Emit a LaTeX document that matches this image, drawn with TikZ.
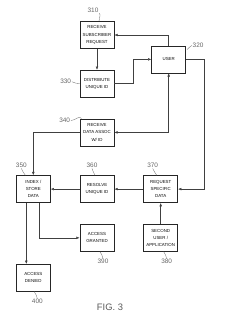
\documentclass[tikz,border=0pt]{standalone}
\usepackage{fontspec}
\setmainfont{Liberation Sans}
\usepackage{tikz}
\usetikzlibrary{arrows.meta,positioning,calc}

\begin{document}
\begin{tikzpicture}[font=\fontsize{3.75}{6.2}\selectfont, node distance=0.63cm and 0.87cm]
\tikzstyle{box}=[rectangle, draw=black!85, line width=0.6pt, minimum width=1.02cm, minimum height=0.81cm, inner sep=0.5pt, align=center, text=black!95]
\tikzstyle{num}=[font=\fontsize{5.5}{6}\selectfont, text=black!60, inner sep=0.5pt]
\tikzstyle{link}=[draw=black!75, line width=0.4pt, -{Latex[length=1mm,width=0.8mm]}]
\tikzstyle{lead}=[draw=black!55, line width=0.3pt]
\useasboundingbox (-2.91,1.05) rectangle (3.90,-8.55);
% left column
\node[box] (s310) {RECEIVE\\SUBSCRIBER\\REQUEST};
\node[box, below=of s310] (s330) {DISTRIBUTE\\UNIQUE ID};
\node[box, below=of s330] (s340) {RECEIVE\\DATA ASSOC\\W/ ID};
\coordinate (mid) at ($(s310.south east)!0.5!(s330.north east)$);
\node[box, right=1.11cm of mid, anchor=west] (user) {USER};
% middle row
\node[box, below=0.87cm of s340] (s360) {RESOLVE\\UNIQUE ID};
\node[box, left=of s360] (s350) {INDEX /\\STORE\\DATA};
\node[box, right=of s360] (s370) {REQUEST\\SPECIFIC\\DATA};
% bottom
\node[box, below=of s360] (s390) {ACCESS\\GRANTED};
\node[box, below=of s370] (s380) {SECOND\\USER /\\APPLICATION};
\node[box, below=1.83cm of s350] (s400) {ACCESS\\DENIED};
% reference numbers
\node[num] (l310) at ([shift={(-0.12,0.33)}]s310.north) {310};
\node[num] (l320) at ([shift={(0.36,0)}]user.north east) {320};
\node[num] (l330) at ([shift={(-0.42,0.06)}]s330.west) {330};
\node[num] (l340) at ([shift={(-0.45,-0.06)}]s340.north west) {340};
\node[num] (l350) at ([shift={(-0.36,0.3)}]s350.north) {350};
\node[num] (l360) at ([shift={(-0.15,0.3)}]s360.north) {360};
\node[num] (l370) at ([shift={(-0.24,0.3)}]s370.north) {370};
\node[num] (l390) at ([shift={(0.18,-0.3)}]s390.south) {390};
\node[num] (l380) at ([shift={(0.18,-0.3)}]s380.south) {380};
\node[num] (l400) at ([shift={(0.12,-0.3)}]s400.south) {400};
\node[font=\fontsize{8}{9}\selectfont, text=black!65] (fig) at ([shift={(0.39,-1.68)}]s390.south) {FIG. 3};
% leaders
\draw[lead] (l310.south east) to[out=-40,in=100] ([xshift=0.06cm]s310.north);
\draw[lead] (l320.west) to[out=200,in=30] ([shift={(0.03,-0.12)}]user.north east);
\draw[lead] (l330.east) to[out=-20,in=180] (s330.west);
\draw[lead] (l340.east) to[out=0,in=120] ([shift={(0.06,0)}]s340.north west);
\draw[lead] (l350.south) to[out=-80,in=110] ([xshift=-0.24cm]s350.north);
\draw[lead] (l360.south) to[out=-80,in=110] ([xshift=-0.06cm]s360.north);
\draw[lead] (l370.south) to[out=-80,in=110] ([xshift=-0.12cm]s370.north);
\draw[lead] (l390.north) to[out=100,in=-60] ([xshift=0.09cm]s390.south);
\draw[lead] (l380.north) to[out=100,in=-60] ([xshift=0.09cm]s380.south);
\draw[lead] (l400.north) to[out=100,in=-60] ([xshift=0.03cm]s400.south);
% connectors
\draw[link] (s310) -- (s330);
\draw[link] (s330.east) -- ++(0.57,0) |- (user.west);
\draw[link] (user.north) |- (s310.east);
\draw[link] (user.east) -- ++(0.54,0) |- (s370.east);
\draw[link, {Latex[length=1mm,width=0.8mm]}-{Latex[length=1mm,width=0.8mm]}] (user.south) |- (s340.east);
\draw[link] (s340.west) -| (s350.north);
\draw[link] (s370) -- (s360);
\draw[link] (s360) -- (s350);
\draw[link] (s380) -- (s370);
\draw[link] ([xshift=0.18cm]s350.south) |- (s390.west);
\draw[link] ([xshift=-0.21cm]s350.south) -- ([xshift=-0.21cm]s400.north);
\end{tikzpicture}
\end{document}
